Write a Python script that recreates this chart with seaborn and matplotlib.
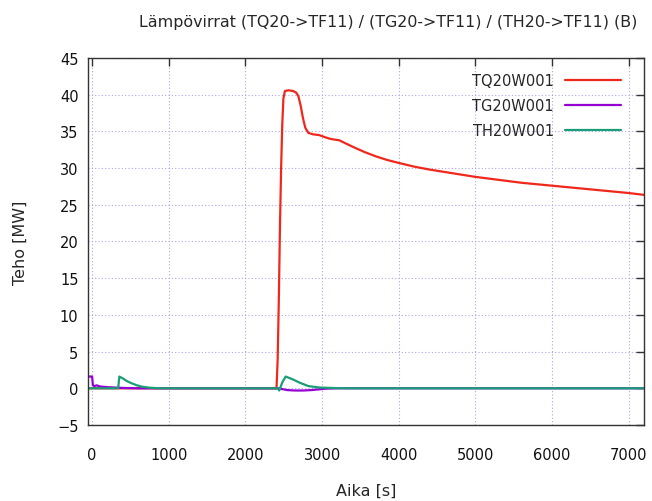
"""
plot.py - heat flow curves (TQ20/TG20/TH20 -> TF11), gnuplot-like look.
"""

import matplotlib
matplotlib.use("Agg")
import matplotlib.pyplot as plt
import numpy as np
import pandas as pd
import seaborn as sns


# ──────────────────────────────────────────────────────────────
# Data
# ──────────────────────────────────────────────────────────────

t_tq = [-50, 2400, 2405, 2420, 2435, 2450, 2465, 2480, 2495, 2515, 2560, 2620,
        2660, 2690, 2720, 2750, 2780, 2820, 2880, 2960, 3040, 3100, 3150, 3220,
        3300, 3400, 3550, 3700, 3850, 4000, 4200, 4400, 4700, 5000, 5300, 5600,
        6000, 6400, 6800, 7000, 7200]
tq20w001 = [0.0, 0.0, 0.0, 4.0, 12.0, 22.0, 30.0, 36.0, 39.5, 40.5, 40.6, 40.5,
            40.3, 39.8, 38.5, 36.8, 35.5, 34.8, 34.6, 34.5, 34.2, 34.0, 33.9, 33.8,
            33.4, 32.9, 32.2, 31.6, 31.1, 30.7, 30.2, 29.8, 29.3, 28.8, 28.4, 28.0,
            27.6, 27.2, 26.8, 26.6, 26.35]

t_tg = [-50, 0, 10, 30, 60, 100, 200, 300, 400, 600, 2400, 2450, 2500, 2550,
        2650, 2750, 2850, 2950, 3050, 3200, 7200]
tg20w001 = [1.6, 1.6, 0.4, 0.3, 0.4, 0.25, 0.15, 0.1, 0.05, 0.0, 0.0, -0.05,
            -0.15, -0.25, -0.3, -0.3, -0.25, -0.15, -0.05, 0.0, 0.0]

t_th = [-50, 340, 355, 400, 450, 500, 580, 650, 750, 850, 1000, 2400, 2420,
        2440, 2480, 2525, 2620, 2710, 2820, 2970, 3200, 3400, 7200]
th20w001 = [0.0, 0.0, 1.6, 1.35, 1.0, 0.75, 0.42, 0.22, 0.08, 0.02, 0.0, 0.0,
            0.0, -0.3, 0.8, 1.6, 1.2, 0.75, 0.3, 0.1, 0.02, 0.0, 0.0]

series = [
    ("TQ20W001", t_tq, tq20w001, "#f0281c"),
    ("TG20W001", t_tg, tg20w001, "#9400d3"),
    ("TH20W001", t_th, th20w001, "#1a9e78"),
]

x_ticks = [0, 1000, 2000, 3000, 4000, 5000, 6000, 7000]
y_ticks = [-5, 0, 5, 10, 15, 20, 25, 30, 35, 40, 45]


# ──────────────────────────────────────────────────────────────
# Style configuration
# ──────────────────────────────────────────────────────────────

sns.set_style("white")
plt.rcParams["font.family"] = ["DejaVu Sans"]
plt.rcParams["font.size"] = 10.5

fig = plt.figure(figsize=(6.52, 5.02), dpi=100)
ax = fig.add_axes([0.1354, 0.1514, 0.8526, 0.7311])

for name, t, v, color in series:
    df = pd.DataFrame({"t": t, "v": v})
    sns.lineplot(data=df, x="t", y="v", ax=ax, color=color, lw=1.6,
                 label=name, estimator=None, sort=False)

ax.set_xlim(-50, 7200)
ax.set_ylim(-5, 45)
ax.set_xticks(x_ticks)
ax.set_yticks(y_ticks)

ax.grid(True, color="#a8a8ee", linestyle=(0, (1, 2)), lw=0.8)
ax.tick_params(direction="in", top=True, right=True, length=6, width=1,
               color="#333333", labelsize=10.5, colors="#111111")
ax.tick_params(axis="x", pad=16)
ax.tick_params(axis="y", pad=7)
for sp in ax.spines.values():
    sp.set_color("#333333")
    sp.set_linewidth(1.0)

ax.set_xlabel("Aika [s]", labelpad=15, fontsize=11.5)
ax.set_ylabel("Teho [MW]", labelpad=21, fontsize=11.5)
ax.set_title("Lämpövirrat (TQ20->TF11) / (TG20->TF11) / (TH20->TF11) (B)",
             pad=23, fontsize=11.4, x=0.54)

ax.legend(loc="upper right", bbox_to_anchor=(0.971, 0.98), frameon=False,
          markerfirst=False, handlelength=3.8, handletextpad=0.8,
          labelspacing=0.69, borderpad=0, fontsize=10.5)

fig.savefig("out.png", dpi=100)
